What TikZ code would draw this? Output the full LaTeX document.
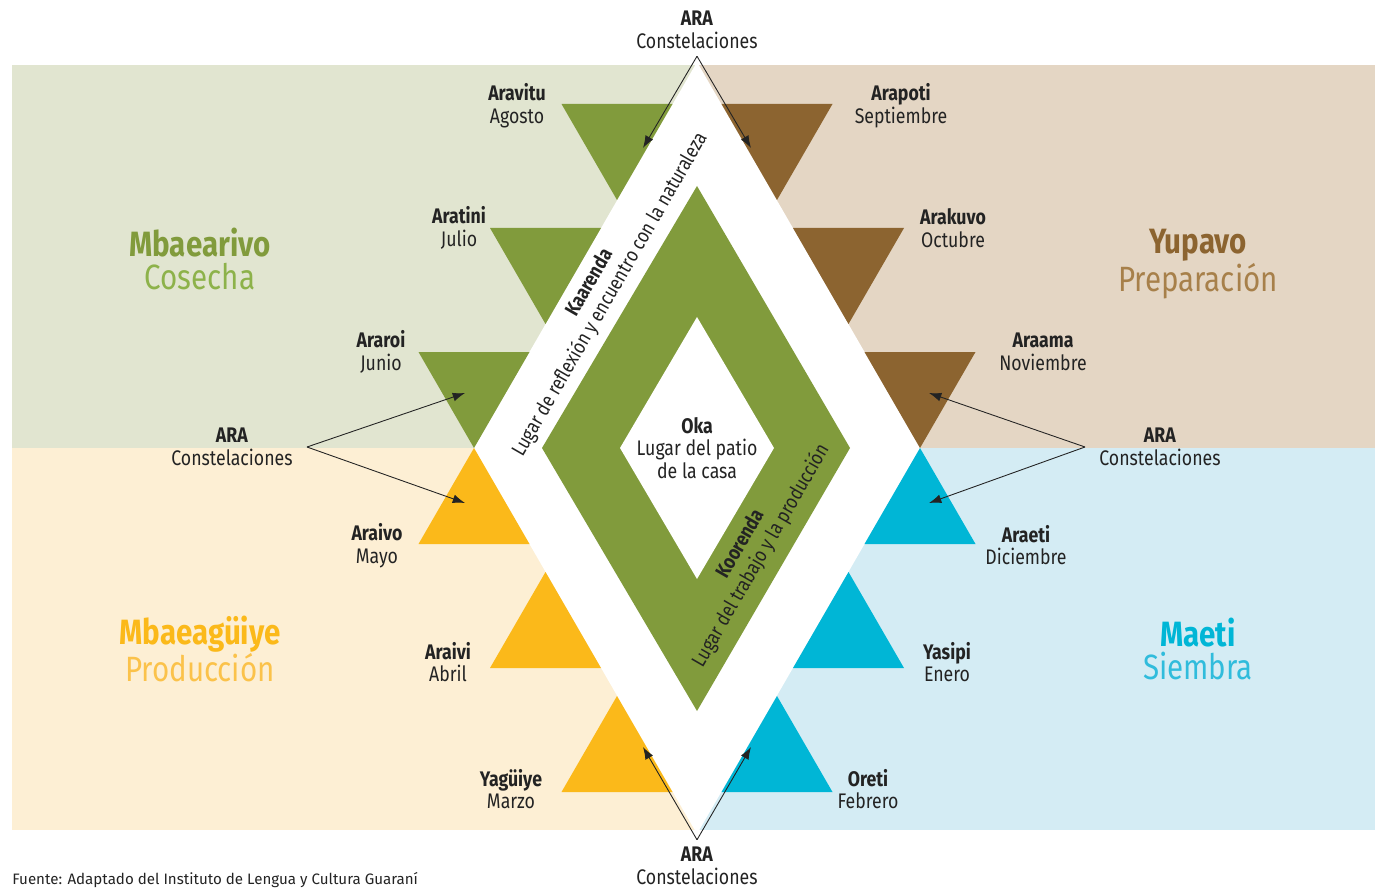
\documentclass[tikz,border=0pt]{standalone}
\usepackage{fontspec}
\setmainfont{Fira Sans}[FakeStretch=0.84]
\newfontfamily\fuentefont{Fira Sans}
\usetikzlibrary{arrows.meta}

\definecolor{verde}{RGB}{129,155,60}
\definecolor{verdeclaro}{RGB}{141,178,74}
\definecolor{cafe}{RGB}{140,100,48}
\definecolor{cafeclaro}{RGB}{167,128,74}
\definecolor{amarillo}{RGB}{251,185,26}
\definecolor{amarilloclaro}{RGB}{251,194,74}
\definecolor{celeste}{RGB}{0,182,214}
\definecolor{celesteclaro}{RGB}{48,188,220}
\definecolor{fondoverde}{RGB}{225,229,208}
\definecolor{fondocafe}{RGB}{228,214,196}
\definecolor{fondoamarillo}{RGB}{253,239,212}
\definecolor{fondoceleste}{RGB}{212,236,244}
\definecolor{texto}{RGB}{35,35,35}

\begin{document}
\begin{tikzpicture}[x=0.02cm, y=-0.02cm,
    mes/.style={align=center, text=texto, font=\fontsize{12}{13}\selectfont, inner sep=1pt},
    ara/.style={mes, inner xsep=8pt, inner ysep=4pt},
    epoca/.style={align=center, font=\fontsize{20}{19}\selectfont},
    banda/.style={align=center, text=texto, font=\fontsize{11.5}{13.5}\selectfont, rotate=60},
    flecha/.style={draw=texto, line width=0.5pt, -{Latex[length=7pt,width=5pt]}}]

    \useasboundingbox (0,0) rectangle (1375,888);

    % 四个季节的背景
    \fill[fondoverde] (12,65) rectangle (697,448);
    \fill[fondocafe] (697,65) rectangle (1375,448);
    \fill[fondoamarillo] (12,448) rectangle (697,830);
    \fill[fondoceleste] (697,448) rectangle (1375,830);

    % 白色菱形
    \fill[white] (697,62) -- (920,448) -- (697,834) -- (474,448) -- cycle;

    % 绿色环 (Kaarenda / Koorenda) 和中间的 Oka
    \fill[verde] (697,186) -- (850,448) -- (697,711) -- (542,448) -- cycle;
    \fill[white] (697,317) -- (774,448) -- (697,579) -- (620,448) -- cycle;

    % 月份三角形
    \foreach \x/\y in {474/448, 545.5/324, 617/200}
      \fill[verde] (\x,\y) -- ++(55.5,-96) -- ++(-111,0) -- cycle;
    \foreach \x/\y in {920/448, 848.5/324, 777/200}
      \fill[cafe] (\x,\y) -- ++(55.5,-96) -- ++(-111,0) -- cycle;
    \foreach \x/\y in {474/448, 545.5/572, 617/696}
      \fill[amarillo] (\x,\y) -- ++(55.5,96) -- ++(-111,0) -- cycle;
    \foreach \x/\y in {920/448, 848.5/572, 777/696}
      \fill[celeste] (\x,\y) -- ++(55.5,96) -- ++(-111,0) -- cycle;

    % 月份名称
    \node[mes] (agosto) at (517,106) {\textbf{Aravitu}\\Agosto};
    \node[mes] (julio) at (459,228) {\textbf{Aratini}\\Julio};
    \node[mes] (junio) at (381,352) {\textbf{Araroi}\\Junio};
    \node[mes] (mayo) at (377,546) {\textbf{Araivo}\\Mayo};
    \node[mes] (abril) at (448,662) {\textbf{Araivi}\\Abril};
    \node[mes] (marzo) at (511,789) {\textbf{Yagüiye}\\Marzo};
    \node[mes] (septiembre) at (901,106) {\textbf{Arapoti}\\Septiembre};
    \node[mes] (octubre) at (953,228) {\textbf{Arakuvo}\\Octubre};
    \node[mes] (noviembre) at (1043,352) {\textbf{Araama}\\Noviembre};
    \node[mes] (diciembre) at (1026,545) {\textbf{Araeti}\\Diciembre};
    \node[mes] (enero) at (947,662) {\textbf{Yasipi}\\Enero};
    \node[mes] (febrero) at (868,789) {\textbf{Oreti}\\Febrero};

    % 季节名称
    \node[epoca] (cosecha) at (200,259) {\textcolor{verde}{\textbf{Mbaearivo}}\\\textcolor{verdeclaro}{Cosecha}};
    \node[epoca] (preparacion) at (1198,264) {\textcolor{cafe}{\textbf{Yupavo}}\\\textcolor{cafeclaro}{Preparación}};
    \node[epoca] (produccion) at (200,649) {\textcolor{amarillo}{\textbf{Mbaeagüiye}}\\\textcolor{amarilloclaro}{Producción}};
    \node[epoca] (siembra) at (1198,649) {\textcolor{celeste}{\textbf{Maeti}}\\\textcolor{celesteclaro}{Siembra}};

    % 菱形里的文字
    \node[banda] (kaarenda) at (600,289) {\textbf{Kaarenda}\\Lugar de reflexión y encuentro con la naturaleza};
    \node[banda] (koorenda) at (751,550) {\textbf{Koorenda}\\Lugar del trabajo y la producción};
    \node[mes] (oka) at (697,448) {\textbf{Oka}\\Lugar del patio\\de la casa};

    % ARA 星座
    \node[ara] (araT) at (697,30) {\textbf{ARA}\\Constelaciones};
    \node[ara] (araL) at (232,447) {\textbf{ARA}\\Constelaciones};
    \node[ara] (araR) at (1160,447) {\textbf{ARA}\\Constelaciones};
    \node[ara] (araB) at (697,866) {\textbf{ARA}\\Constelaciones};

    \coordinate (agostoP) at (643,148);
    \coordinate (septiembreP) at (751,148);
    \coordinate (junioP) at (465,393);
    \coordinate (mayoP) at (465,503);
    \coordinate (noviembreP) at (929,393);
    \coordinate (diciembreP) at (929,503);
    \coordinate (marzoP) at (643,747);
    \coordinate (febreroP) at (751,747);

    \draw[flecha] (araT.south) -- (agostoP);
    \draw[flecha] (araT.south) -- (septiembreP);
    \draw[flecha] (araL.east) -- (junioP);
    \draw[flecha] (araL.east) -- (mayoP);
    \draw[flecha] (araR.west) -- (noviembreP);
    \draw[flecha] (araR.west) -- (diciembreP);
    \draw[flecha] (araB.north) -- (marzoP);
    \draw[flecha] (araB.north) -- (febreroP);

    % 来源
    \node[anchor=west, inner sep=0pt, text=texto, font=\fuentefont\fontsize{8.6}{10}\selectfont] (fuente) at (12,880) {Fuente: Adaptado del Instituto de Lengua y Cultura Guaraní};
  \end{tikzpicture}
\end{document}
